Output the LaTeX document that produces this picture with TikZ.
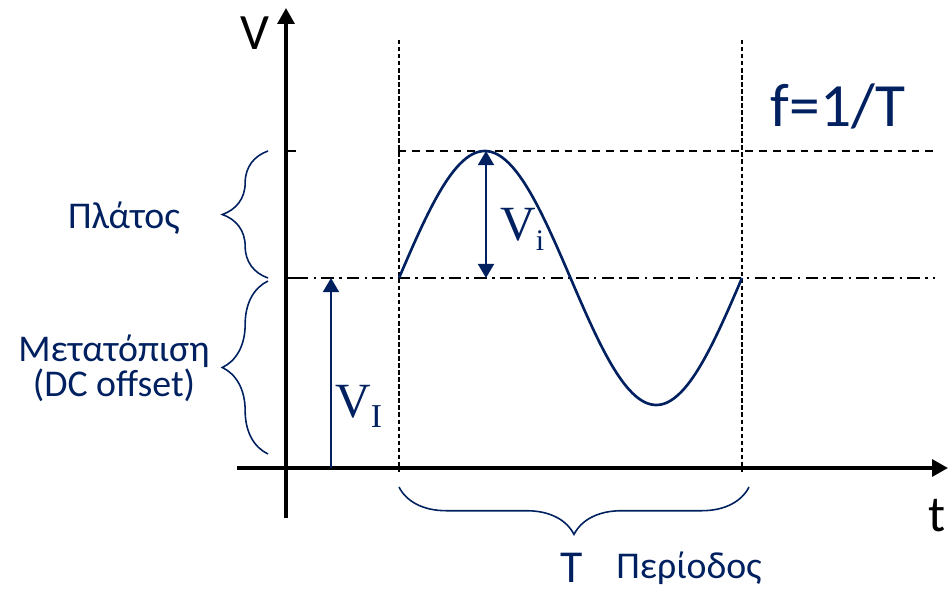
\documentclass[tikz,border=0pt]{standalone}
\usepackage{fontspec}
\setmainfont{Carlito}
\newfontfamily\vfont{Liberation Serif}
\usepackage{tikz}
\usetikzlibrary{arrows.meta,calc,positioning,decorations.pathreplacing}
\definecolor{navy}{HTML}{002060}
\newcommand{\lowsub}[2]{\raisebox{-5.7pt}{\fontsize{#1}{#1}\selectfont #2}}

\begin{document}
\begin{tikzpicture}[x=0.02cm,y=-0.02cm,
    axis/.style={line width=2pt,-{Triangle[length=9pt,width=9.5pt]}},
    tick/.style={line width=1.3pt},
    guide/.style={line width=0.7pt,dash pattern=on 2.5pt off 1.5pt},
    peakline/.style={line width=1.4pt,dash pattern=on 4.5pt off 3.4pt},
    meanline/.style={line width=1.4pt,dash pattern=on 7pt off 3pt on 1.5pt off 3pt},
    wave/.style={navy,line width=1.5pt},
    vtip/.style={navy,line width=1.4pt},
    bracket/.style={navy,line width=0.9pt,decorate,decoration={brace,amplitude=#1}},
    bracket/.default=26pt,
    lbl/.style={navy,inner sep=0pt,align=center}]
        \useasboundingbox (0,0) rectangle (948,592);
        % points
        \coordinate (o) at (286,468);
        \coordinate (ybot) at (286,518);
        \coordinate (ytop) at (286,8);
        \coordinate (xleft) at (237,468);
        \coordinate (xright) at (948,468);
        \coordinate (t0top) at (399,40);
        \coordinate (t0bot) at (399,472);
        \coordinate (t1top) at (742,40);
        \coordinate (t1bot) at (742,472);
        \coordinate (pkl) at (398,151);
        \coordinate (pkr) at (935,151);
        \coordinate (dcl) at (296,278);
        \coordinate (dcr) at (935,278);
        \coordinate (pk) at (486,151);
        \coordinate (pkb) at (486,278);
        \coordinate (dc0) at (331,468);
        \coordinate (dc1) at (331,278);
        %Axis
        \draw[axis] (ybot) -- (ytop);
        \draw[axis] (xleft) -- (xright);
        \draw[tick] (286,151) -- (296,151);
        \draw[tick] (286,278) -- (296,278);
        \node (vlab) at (255,33) {\fontsize{29}{30}\selectfont V};
        \node (tlab) at (937,516) {\fontsize{29}{30}\selectfont t};
        %Guides
        \draw[guide] (t0top) -- (t0bot);
        \draw[guide] (t1top) -- (t1bot);
        \draw[peakline] (pkl) -- (pkr);
        \draw[meanline] (dcl) -- (dcr);
        %Signal
        \draw[wave] plot[domain=0:360,samples=120] ({399+0.95278*\x},{278-127*sin(\x)});
        \draw[vtip,{Triangle[length=8pt,width=9pt]}-{Triangle[length=8pt,width=9pt]}] (pk) -- (pkb);
        \draw[vtip,-{Triangle[length=8pt,width=9pt]}] (dc0) -- (dc1);
        \node[lbl,anchor=base west] (vi) at (500,240) {\vfont\fontsize{28}{30}\selectfont V\lowsub{17}{i}};
        \node[lbl,anchor=base west] (vdc) at (335,417) {\vfont\fontsize{28}{30}\selectfont V\lowsub{19}{I}};
        %Braces
        \draw[bracket] (268,278) -- (268,151);
        \draw[bracket] (268,454) -- (268,281);
        \draw[bracket=27pt] (749,487) -- (399,487);
        \node[lbl,font=\fontsize{21.5}{20}\selectfont] (amp) at (124,218) {Πλάτος};
        \node[lbl,font=\fontsize{21.5}{20}\selectfont] (offs) at (114,368) {Μετατόπιση\\(DC offset)};
        \node[lbl,font=\fontsize{26}{26}\selectfont] (per) at (572,568) {T};
        \node[lbl,font=\fontsize{21.5}{22}\selectfont] (pername) at (689,568) {Περίοδος};
        \node[lbl,font=\fontsize{35}{36}\selectfont] (freq) at (838,106) {f=1/T};
      \end{tikzpicture}
\end{document}
